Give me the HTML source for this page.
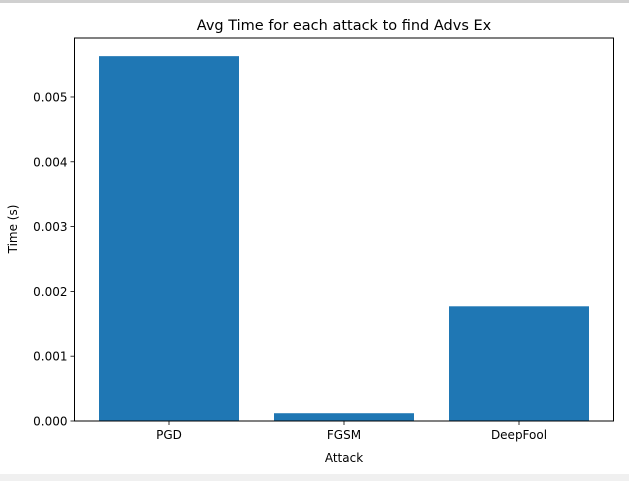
<!DOCTYPE html>
<html><head><meta charset="utf-8"><style>
html,body{margin:0;padding:0;background:#fff;width:629px;height:481px;overflow:hidden}
svg text{font-family:"DejaVu Sans","Liberation Sans",sans-serif;fill:#000}
</style></head><body>
<svg id="chart" width="629" height="481" xmlns="http://www.w3.org/2000/svg">
<rect x="0" y="0" width="629" height="3" fill="#d0d0d0"/>
<rect x="0" y="474" width="629" height="7" fill="#f0f0f0"/>
<text x="344" y="30" font-size="14.5" text-anchor="middle">Avg Time for each attack to find Advs Ex</text>
<g id="plot"></g>
<text x="344" y="462" font-size="12" text-anchor="middle">Attack</text>
<text transform="translate(17,229) rotate(-90)" font-size="12" text-anchor="middle">Time (s)</text>
</svg>
<script>
const categories = ["PGD","FGSM","DeepFool"];
const values = [0.00563, 0.00012, 0.00177];
const yTicks = [0,0.001,0.002,0.003,0.004,0.005];
const yTickLabels = ["0.000","0.001","0.002","0.003","0.004","0.005"];

const L=74.5,R=613.5,T=38,B=421;
const xmin=-0.54,xmax=2.54,ymin=0,ymax=0.00591;
const xs=v=>L+(v-xmin)/(xmax-xmin)*(R-L);
const ys=v=>B-(v-ymin)/(ymax-ymin)*(B-T);
const NS="http://www.w3.org/2000/svg";
const g=document.getElementById('plot');
function mk(t,a){const e=document.createElementNS(NS,t);for(const k in a)e.setAttribute(k,a[k]);g.appendChild(e);return e;}
categories.forEach((c,i)=>{
  const b=mk('rect',{x:xs(i-0.4),y:ys(values[i]),width:xs(i+0.4)-xs(i-0.4),height:ys(0)-ys(values[i]),fill:'#1f77b4'});
  
  
  const t=mk('line',{x1:xs(i),x2:xs(i),y1:B,y2:B+4,stroke:'#000','stroke-width':0.8});
  
  
  const l=mk('text',{x:xs(i),y:B+18,'font-size':12,'text-anchor':'middle'});
  l.textContent=c;
  
  
});
yTicks.forEach((v,i)=>{
  const t=mk('line',{x1:L-4,x2:L,y1:ys(v),y2:ys(v),stroke:'#000','stroke-width':0.8});
  
  
  const l=mk('text',{x:L-7,y:ys(v)+4.5,'font-size':12,'text-anchor':'end'});
  l.textContent=yTickLabels[i];
  
  
});
const f=mk('rect',{x:L,y:T,width:R-L,height:B-T,fill:'none',stroke:'#000','stroke-width':1});


</script>
</body></html>
